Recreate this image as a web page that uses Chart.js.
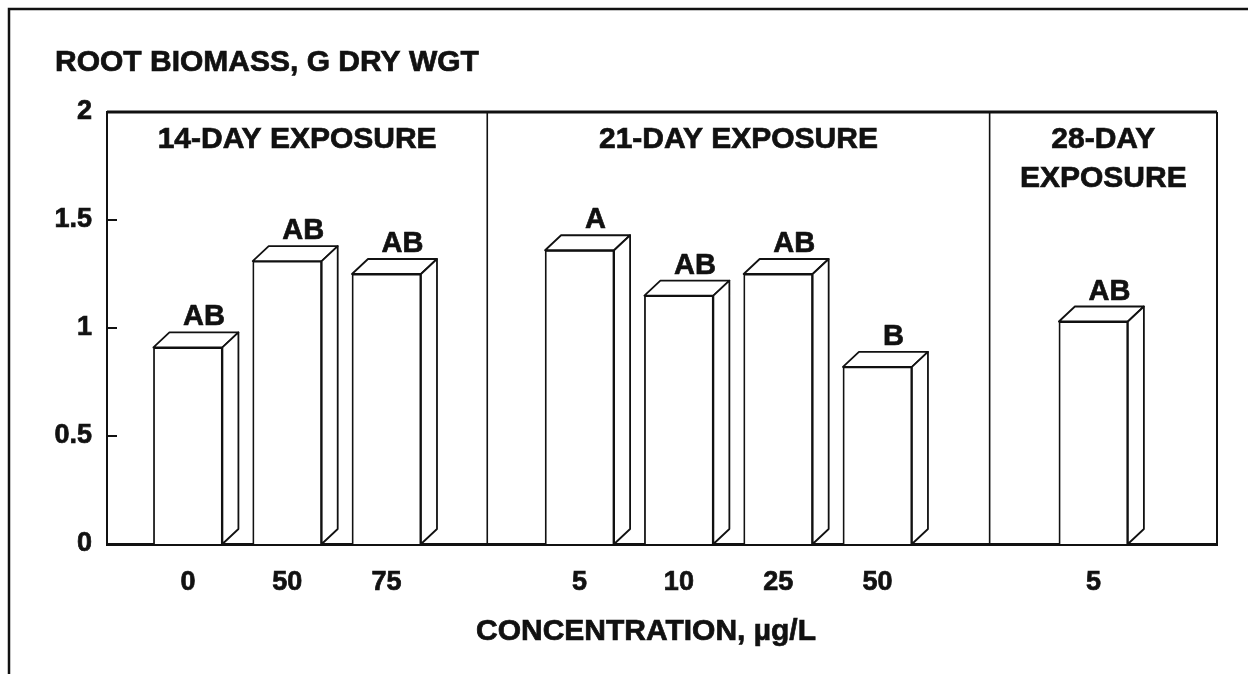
<!DOCTYPE html>
<html>
<head>
<meta charset="utf-8">
<script src="https://cdn.jsdelivr.net/npm/chart.js@4"></script>
<style>
  html, body { margin: 0; padding: 0; background: #fff; }
  canvas { display: block; }
</style>
</head>
<body>
<canvas id="rootChart" width="1248" height="674"></canvas>
<script>
var concentrations = ['0', '50', '75', '5', '10', '25', '50', '5'];
var biomass = [0.91, 1.31, 1.25, 1.36, 1.15, 1.25, 0.82, 1.03];
var letters = ['AB', 'AB', 'AB', 'A', 'AB', 'AB', 'B', 'AB'];
var exposure = [0, 0, 0, 1, 1, 1, 1, 2];
var exposureTitles = [['14-DAY EXPOSURE'], ['21-DAY EXPOSURE'], ['28-DAY', 'EXPOSURE']];
var yTicks = [0, 0.5, 1, 1.5, 2];

// section edges on the x axis, measured in bar steps
var edges = [0, 3.83, 8.89, 11.18];
var DX = 16, DY = 15;   // depth of the fake 3d faces
var FONT = "'Liberation Sans', Arial, Helvetica, sans-serif";
var INK = '#111';

// bars sit one step apart, centred in their section (nudged a little left)
var xPos = [];
for (var s = 0; s < exposureTitles.length; s++) {
    var idx = [];
    exposure.forEach(function (e, i) { if (e === s) idx.push(i); });
    var start = (edges[s] + edges[s + 1]) / 2 - (idx.length - 1) / 2 - 0.1;
    idx.forEach(function (i, j) { xPos[i] = start + j; });
}

// filled text with a hairline stroke so it reads as heavy as the print
function inkText(ctx, t, x, y) {
    ctx.fillText(t, x, y);
    ctx.strokeText(t, x, y);
}

var paper = {
    id: 'paper',
    beforeDraw: function (chart) {
        var ctx = chart.ctx;
        ctx.save();
        ctx.fillStyle = '#fff';
        ctx.fillRect(0, 0, chart.width, chart.height);
        ctx.strokeStyle = INK;
        ctx.lineWidth = 2.5;
        ctx.beginPath();
        ctx.moveTo(9, chart.height);
        ctx.lineTo(9, 9);
        ctx.lineTo(chart.width, 9);
        ctx.stroke();
        ctx.restore();
    }
};

// top and side faces of each bar, plus the letter above it
var boxes = {
    id: 'boxes',
    afterDatasetsDraw: function (chart) {
        var ctx = chart.ctx;
        var meta = chart.getDatasetMeta(0);
        ctx.save();
        ctx.strokeStyle = INK;
        ctx.lineJoin = 'round';
        meta.data.forEach(function (bar, i) {
            var p = bar.getProps(['x', 'y', 'base', 'width'], true);
            var l = p.x - p.width / 2, r = p.x + p.width / 2;
            ctx.fillStyle = '#fff';
            ctx.lineWidth = 1.8;
            ctx.beginPath();
            ctx.moveTo(l, p.y);
            ctx.lineTo(l + DX, p.y - DY);
            ctx.lineTo(r + DX, p.y - DY);
            ctx.lineTo(r, p.y);
            ctx.closePath();
            ctx.fill();
            ctx.stroke();
            ctx.beginPath();
            ctx.moveTo(r, p.y);
            ctx.lineTo(r + DX, p.y - DY);
            ctx.lineTo(r + DX, p.base - DY);
            ctx.lineTo(r, p.base);
            ctx.closePath();
            ctx.fill();
            ctx.stroke();

            ctx.fillStyle = INK;
            ctx.lineWidth = 0.7;
            ctx.font = 'bold 29px ' + FONT;
            ctx.textAlign = 'center';
            ctx.textBaseline = 'alphabetic';
            inkText(ctx, letters[i], p.x + DX, p.y - DY - 7);
        });
        ctx.restore();
    }
};

var frame = {
    id: 'frame',
    afterDraw: function (chart) {
        var ctx = chart.ctx;
        var a = chart.chartArea;
        var xs = chart.scales.x, ys = chart.scales.y;
        ctx.save();
        ctx.strokeStyle = INK;

        ctx.lineWidth = 3;
        ctx.beginPath();
        ctx.moveTo(a.left, a.top);
        ctx.lineTo(a.right, a.top);
        ctx.stroke();
        ctx.lineWidth = 2;
        ctx.beginPath();
        ctx.moveTo(a.right, a.top);
        ctx.lineTo(a.right, a.bottom);
        ctx.stroke();

        // section dividers
        ctx.lineWidth = 1.6;
        for (var k = 1; k < edges.length - 1; k++) {
            var ex = xs.getPixelForValue(edges[k]);
            ctx.beginPath();
            ctx.moveTo(ex, a.top);
            ctx.lineTo(ex, a.bottom);
            ctx.stroke();
        }

        // inward tick marks
        ctx.lineWidth = 2;
        yTicks.forEach(function (v) {
            var ty = ys.getPixelForValue(v);
            ctx.beginPath();
            ctx.moveTo(a.left, ty);
            ctx.lineTo(a.left + 10, ty);
            ctx.stroke();
        });

        ctx.fillStyle = INK;
        ctx.lineWidth = 0.7;
        ctx.textBaseline = 'alphabetic';
        ctx.font = 'bold 30px ' + FONT;
        ctx.textAlign = 'center';
        exposureTitles.forEach(function (lines, k) {
            var cx = (xs.getPixelForValue(edges[k]) + xs.getPixelForValue(edges[k + 1])) / 2;
            lines.forEach(function (t, j) {
                inkText(ctx, t, cx, a.top + 36 + j * 39);
            });
        });

        ctx.textAlign = 'left';
        inkText(ctx, 'ROOT BIOMASS, G DRY WGT', 55, 71);
        ctx.textAlign = 'center';
        inkText(ctx, 'CONCENTRATION, \u00b5g/L', 646, 640);
        ctx.restore();
    }
};

var tickFont = { family: FONT, size: 27, weight: 'bold' };

new Chart(document.getElementById('rootChart'), {
    type: 'bar',
    data: {
        datasets: [{
            data: xPos.map(function (x, i) { return { x: x, y: biomass[i] }; }),
            backgroundColor: '#fff',
            borderColor: INK,
            borderWidth: 1.8,
            borderSkipped: 'start',
            barThickness: 69
        }]
    },
    options: {
        responsive: false,
        animation: false,
        events: [],
        layout: { padding: { left: 0, right: 31, top: 112, bottom: 0 } },
        plugins: { legend: { display: false }, tooltip: { enabled: false } },
        scales: {
            x: {
                type: 'linear',
                min: edges[0],
                max: edges[edges.length - 1],
                bounds: 'data',
                offset: false,
                z: 1,
                grid: { display: false, drawTicks: false, offset: false },
                border: { display: true, color: INK, width: 3 },
                afterBuildTicks: function (scale) {
                    scale.ticks = xPos.map(function (v) { return { value: v }; });
                },
                afterFit: function (scale) { scale.height = 130; },
                ticks: {
                    autoSkip: false,
                    maxRotation: 0,
                    padding: 22,
                    color: INK,
                    textStrokeColor: INK,
                    textStrokeWidth: 0.7,
                    font: tickFont,
                    callback: function (v, i) { return concentrations[i]; }
                }
            },
            y: {
                min: 0,
                max: 2,
                z: 1,
                grid: { display: false, drawTicks: false },
                border: { display: true, color: INK, width: 2 },
                afterBuildTicks: function (scale) {
                    scale.ticks = yTicks.map(function (v) { return { value: v }; });
                },
                afterFit: function (scale) { scale.width = 107; },
                ticks: {
                    padding: 15,
                    color: INK,
                    textStrokeColor: INK,
                    textStrokeWidth: 0.7,
                    font: tickFont,
                    callback: function (v) { return String(v); }
                }
            }
        }
    },
    plugins: [paper, boxes, frame]
});
</script>
</body>
</html>
